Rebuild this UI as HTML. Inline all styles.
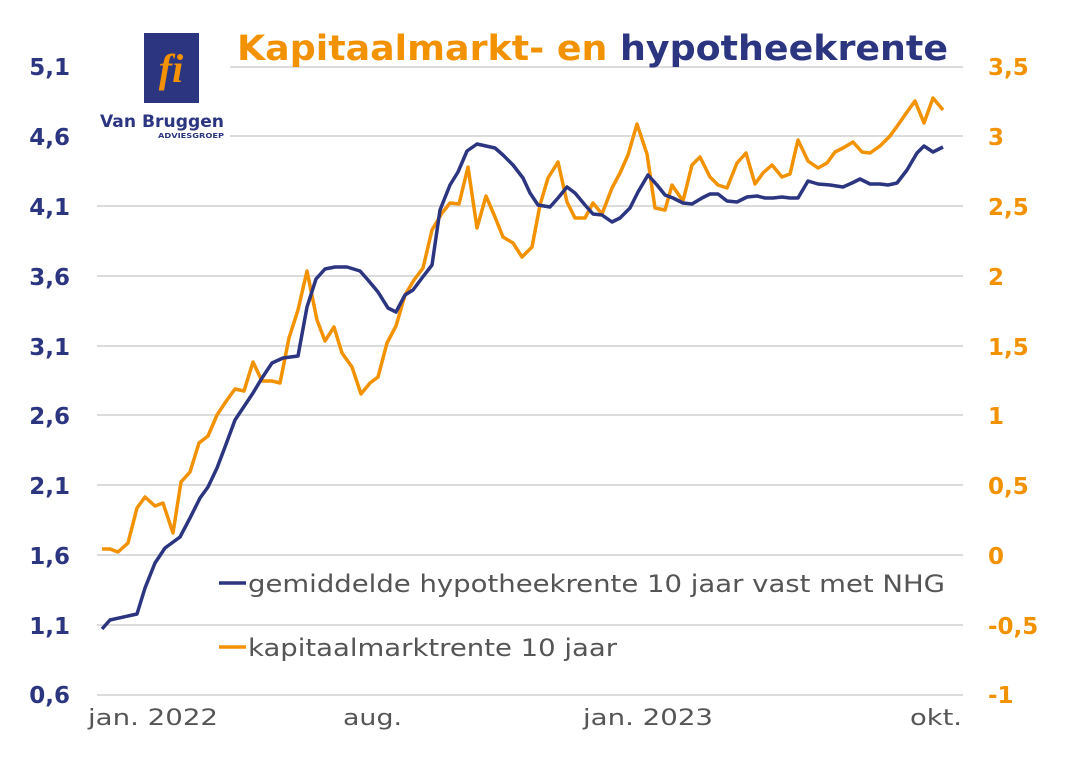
<!DOCTYPE html>
<html><head><meta charset="utf-8"><style>
body{margin:0;background:#fff;}
svg{display:block;font-family:"DejaVu Sans","Liberation Sans",sans-serif;}
</style></head><body>
<svg width="1081" height="758" viewBox="0 0 1081 758" xmlns="http://www.w3.org/2000/svg">
<rect width="1081" height="758" fill="#fff"/>
<g stroke="#dcdcdc" stroke-width="2">
<line x1="97" y1="67" x2="963" y2="67"/><line x1="97" y1="136" x2="963" y2="136"/>
<line x1="97" y1="206" x2="963" y2="206"/><line x1="97" y1="276" x2="963" y2="276"/>
<line x1="97" y1="346" x2="963" y2="346"/><line x1="97" y1="415" x2="963" y2="415"/>
<line x1="97" y1="485" x2="963" y2="485"/><line x1="97" y1="555" x2="963" y2="555"/>
<line x1="97" y1="625" x2="963" y2="625"/><line x1="97" y1="695" x2="963" y2="695"/>
</g>
<rect x="95" y="25" width="135" height="118" fill="#fff"/>
<rect x="144" y="33" width="55" height="70" fill="#2b3580"/>
<text x="171" y="82" font-size="40" font-style="italic" font-weight="bold" fill="#f39200" text-anchor="middle" font-family="Liberation Serif,serif">fi</text>
<text x="100" y="127" font-size="17" font-weight="bold" fill="#2b3580" textLength="124" lengthAdjust="spacingAndGlyphs">Van Bruggen</text>
<text x="158" y="138" font-size="7" font-weight="bold" fill="#2b3580" textLength="66" lengthAdjust="spacingAndGlyphs">ADVIESGROEP</text>
<text x="237" y="60" font-size="35" font-weight="bold" fill="#f39200" textLength="711" lengthAdjust="spacingAndGlyphs">Kapitaalmarkt- en <tspan fill="#2b3580">hypotheekrente</tspan></text>
<g font-size="23" font-weight="bold" fill="#2b3580" text-anchor="end">
<text x="70" y="75">5,1</text><text x="70" y="145">4,6</text><text x="70" y="215">4,1</text>
<text x="70" y="285">3,6</text><text x="70" y="355">3,1</text><text x="70" y="424">2,6</text>
<text x="70" y="494">2,1</text><text x="70" y="564">1,6</text><text x="70" y="634">1,1</text>
<text x="70" y="703">0,6</text></g>
<g font-size="23" font-weight="bold" fill="#f39200">
<text x="988" y="75">3,5</text><text x="988" y="145">3</text><text x="988" y="215">2,5</text>
<text x="988" y="285">2</text><text x="988" y="355">1,5</text><text x="988" y="424">1</text>
<text x="988" y="494">0,5</text><text x="988" y="564">0</text><text x="988" y="634">-0,5</text>
<text x="988" y="703">-1</text></g>
<g font-size="22" fill="#555" lengthAdjust="spacingAndGlyphs">
<text x="88" y="725" textLength="130" lengthAdjust="spacingAndGlyphs">jan. 2022</text>
<text x="343" y="725" textLength="59" lengthAdjust="spacingAndGlyphs">aug.</text>
<text x="583" y="725" textLength="130" lengthAdjust="spacingAndGlyphs">jan. 2023</text>
<text x="910" y="725" textLength="52" lengthAdjust="spacingAndGlyphs">okt.</text></g>
<polyline fill="none" stroke="#f39200" stroke-width="3.5" stroke-linejoin="round" points="102,549 110,549 118,552 128,543 137,508 145,497 155,506 163,503 173,533 181,482 190,472 199,443 208,436 217,415 227,400 235,389 244,391 253,362 262,381 272,381 280,383 289,338 298,310 307,271 317,320 325,341 334,327 342,353 352,367 361,394 370,383 378,377 387,343 396,326 405,295 414,280 423,268 432,230 442,213 450,203 459,204 468,167 477,228 486,196 495,217 503,237 513,243 522,257 532,247 540,205 548,178 558,162 567,202 575,218 585,218 593,203 602,214 612,188 620,173 628,155 637,124 647,154 655,208 665,210 672,185 683,201 692,165 700,157 710,177 718,185 727,188 737,163 746,153 755,184 763,173 772,165 782,177 790,174 798,140 808,161 818,168 827,163 835,152 843,148 853,142 862,152 870,153 880,146 890,136 898,125 907,112 915,101 924,123 933,98 943,110"/>
<polyline fill="none" stroke="#2b3580" stroke-width="3.5" stroke-linejoin="round" points="102,629 110,620 137,614 145,588 155,563 165,548 180,537 190,518 200,498 208,487 217,468 225,447 235,420 243,408 253,393 262,378 272,363 283,358 298,356 307,307 316,279 325,269 335,267 347,267 360,271 368,280 378,292 388,308 396,312 405,295 413,290 422,278 432,265 440,210 450,185 458,172 467,151 477,144 495,148 503,155 513,165 523,178 530,193 538,205 550,207 558,198 567,187 575,193 585,205 593,214 602,215 612,222 620,218 630,208 638,192 648,175 657,185 665,195 673,198 683,203 692,204 702,198 710,194 718,194 727,201 737,202 747,197 757,196 765,198 773,198 782,197 790,198 798,198 808,181 818,184 830,185 843,187 852,183 860,179 870,184 880,184 888,185 897,183 907,170 917,153 924,146 933,152 943,147"/>
<line x1="219" y1="583" x2="246" y2="583" stroke="#2b3580" stroke-width="3.5"/>
<text x="248" y="592" font-size="24" fill="#555" textLength="697" lengthAdjust="spacingAndGlyphs">gemiddelde hypotheekrente 10 jaar vast met NHG</text>
<line x1="219" y1="647" x2="246" y2="647" stroke="#f39200" stroke-width="3.5"/>
<text x="248" y="656" font-size="24" fill="#555" textLength="369" lengthAdjust="spacingAndGlyphs">kapitaalmarktrente 10 jaar</text>
</svg>
</body></html>
